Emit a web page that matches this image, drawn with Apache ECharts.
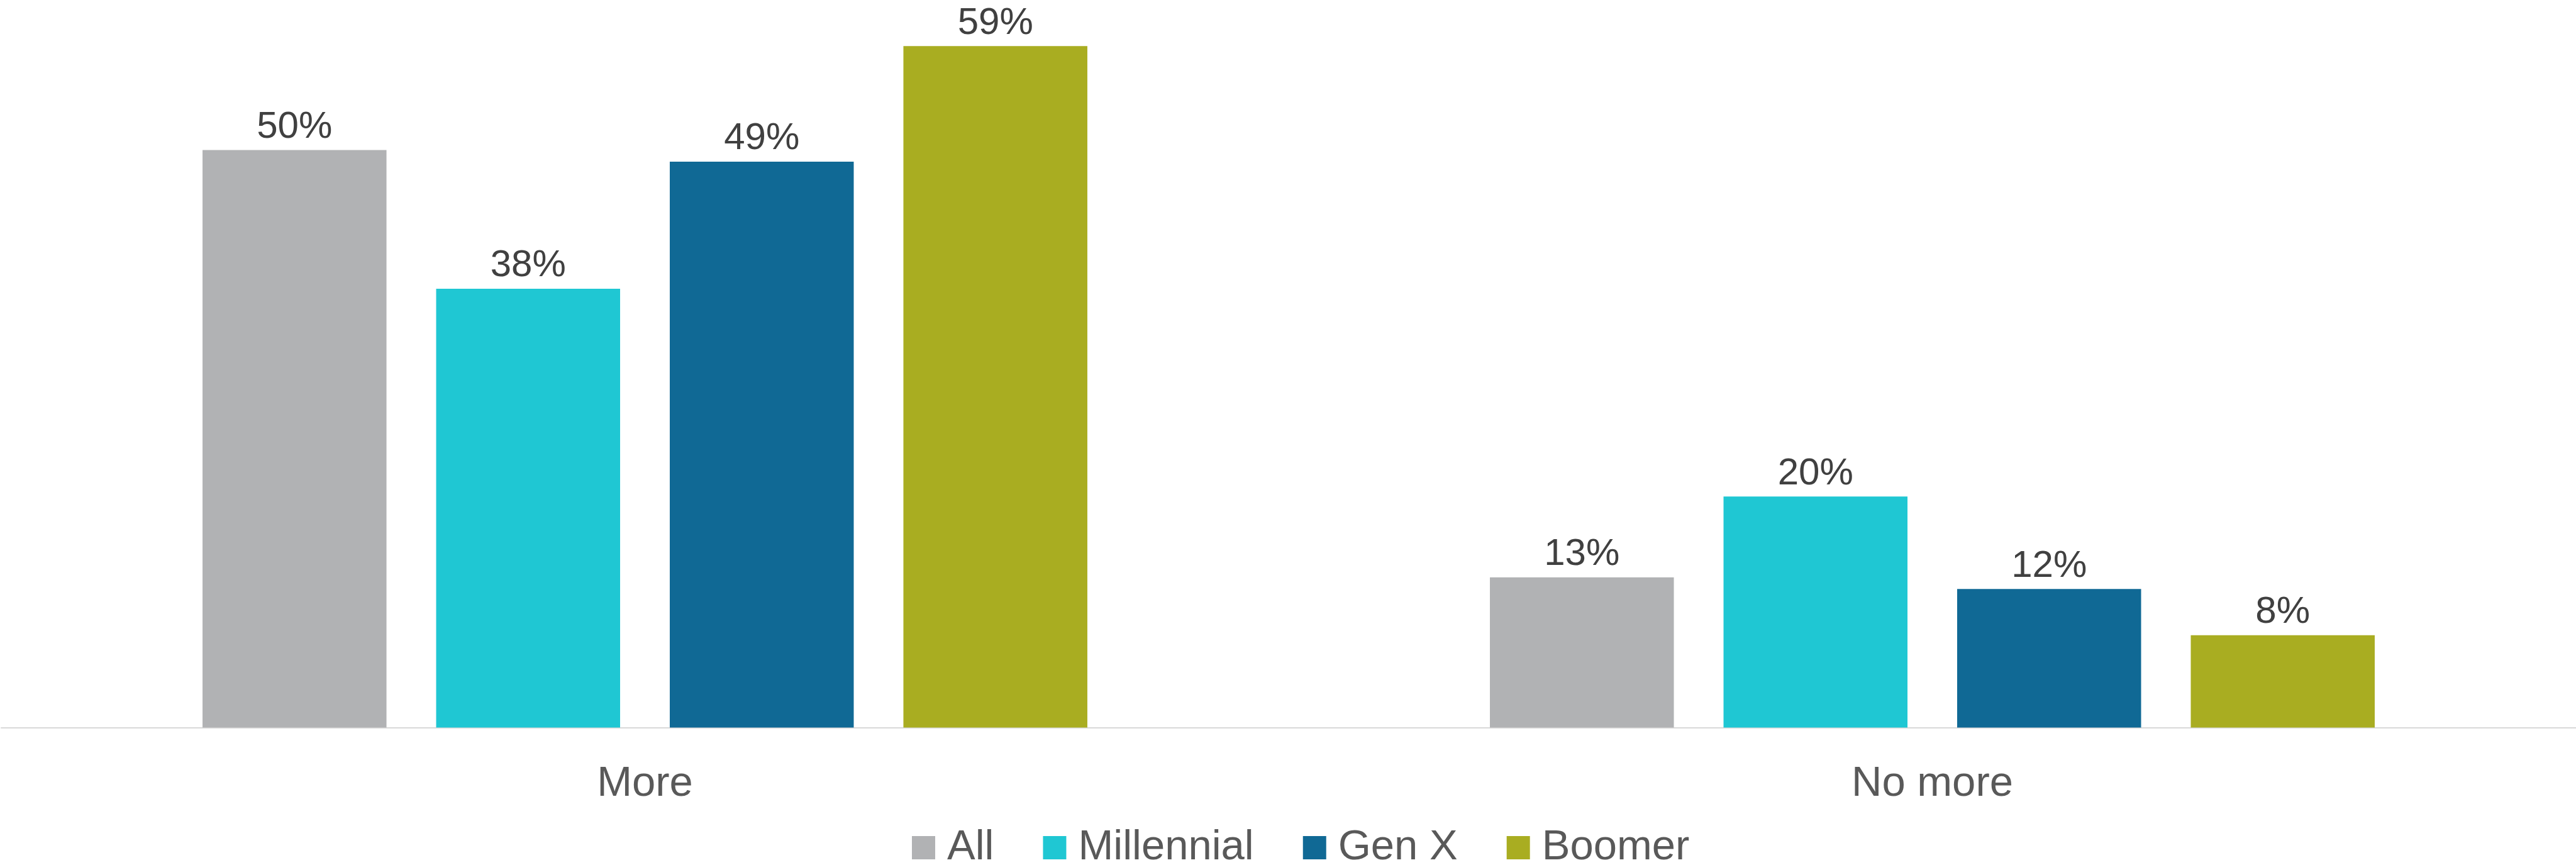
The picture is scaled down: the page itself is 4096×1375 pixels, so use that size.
<!DOCTYPE html>
<html>
<head>
<meta charset="utf-8">
<script src="https://cdn.jsdelivr.net/npm/echarts@6/dist/echarts.min.js"></script>
<style>
  html, body { margin: 0; padding: 0; background: #ffffff; }
  #chart { width: 4096px; height: 1375px; }
</style>
</head>
<body>
<div id="chart"></div>
<script>
// Survey answers by generation, in percent
const categories = ['More', 'No more'];
const seriesNames = ['All', 'Millennial', 'Gen X', 'Boomer'];
const allValues = [50, 13];
const millennialValues = [38, 20];
const genXValues = [49, 12];
const boomerValues = [59, 8];
const seriesColors = ['#b1b2b4', '#1fc7d3', '#106995', '#a9ad21'];

const FONT = "'Liberation Sans', Arial, sans-serif";
const valuesBySeries = [allValues, millennialValues, genXValues, boomerValues];

const chart = echarts.init(document.getElementById('chart'));

chart.setOption({
  animation: false,
  backgroundColor: '#ffffff',
  textStyle: { fontFamily: FONT },
  grid: { left: 2, right: -4, top: 55, bottom: 218.5 },
  legend: {
    data: seriesNames,
    left: 1445,
    top: 1309,
    itemWidth: 37,
    itemHeight: 37,
    itemGap: 78,
    icon: 'rect',
    textStyle: {
      fontFamily: FONT,
      fontSize: 67,
      color: '#595959',
      padding: [0, 0, 0, 14]
    }
  },
  xAxis: {
    type: 'category',
    data: categories,
    axisTick: { show: false },
    axisLine: { show: true, lineStyle: { color: '#d9d9d9', width: 2 } },
    axisLabel: {
      fontFamily: FONT,
      fontSize: 67,
      color: '#595959',
      margin: 57
    }
  },
  yAxis: {
    type: 'value',
    min: 0,
    max: 60,
    show: false,
    splitLine: { show: false }
  },
  series: seriesNames.map((name, i) => ({
    name: name,
    type: 'bar',
    data: valuesBySeries[i],
    barWidth: 292.5,
    barGap: '27%',
    itemStyle: { color: seriesColors[i] },
    label: {
      show: true,
      position: 'top',
      distance: 6,
      formatter: '{c}%',
      fontFamily: FONT,
      fontSize: 60,
      color: '#404040'
    }
  }))
});
</script>
</body>
</html>
